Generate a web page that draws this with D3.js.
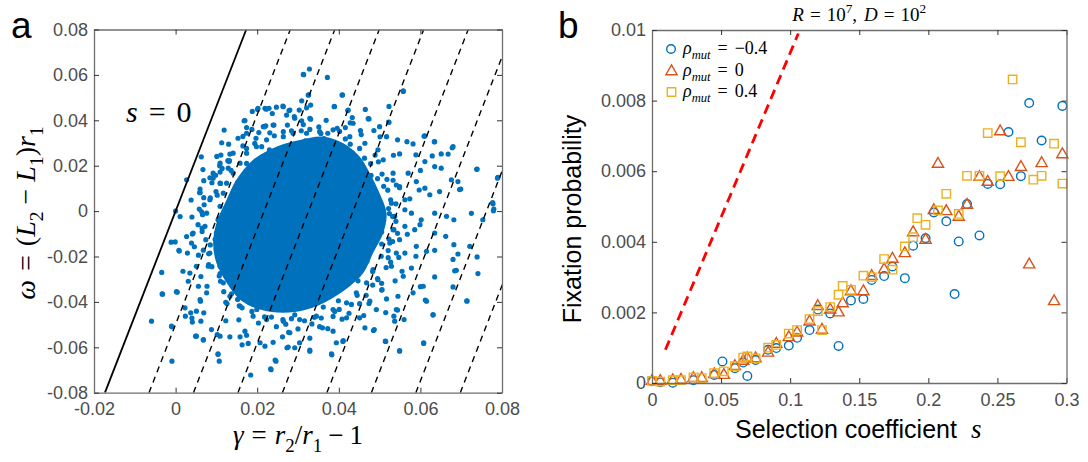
<!DOCTYPE html>
<html>
<head>
<meta charset="utf-8">
<script src="https://cdn.jsdelivr.net/npm/d3@7/dist/d3.min.js"></script>
<style>
  body { margin: 0; background: #fff; }
  text { font-family: "Liberation Sans", Arial, sans-serif; }
  .axis text { fill: #4d4d4d; font-size: 18px; font-family: "Liberation Sans", Arial, sans-serif; }
  .axis path.domain { stroke: #6e6e6e; stroke-width: 1.3; }
  .axis line { stroke: #333; stroke-width: 1; }
  .tex { font-family: "Liberation Serif", "DejaVu Serif", serif; fill: #000; }
</style>
</head>
<body>
<svg id="fig"></svg>
<script>
// ---------- panel a : gamma / omega cloud ----------
// solid middle of the cloud, outline
let cloudCore = [
  [0.0190, 0.0226], [0.0247, 0.0284], [0.0305, 0.0313], [0.0362, 0.0328], [0.0411, 0.0299],
  [0.0451, 0.0240], [0.0476, 0.0167], [0.0500, 0.0079], [0.0517, -0.0009], [0.0509, -0.0097],
  [0.0484, -0.0185], [0.0460, -0.0273], [0.0427, -0.0331], [0.0378, -0.0390], [0.0321, -0.0434],
  [0.0264, -0.0448], [0.0207, -0.0434], [0.0158, -0.0390], [0.0125, -0.0316], [0.0100, -0.0229],
  [0.0092, -0.0141], [0.0100, -0.0053], [0.0125, 0.0050], [0.0149, 0.0138]
];

// dense points along the edge of the core
let cloudEdge = [
  [0.0491,-0.0042],[0.0522,0.0011],[0.0544,-0.0098],[0.0496,0.0054],[0.0533,0.0136],[0.0452,0.0118],
  [0.0478,0.0209],[0.0434,0.0209],[0.0455,0.0337],[0.0401,0.0283],[0.0364,0.0255],[0.0351,0.0371],
  [0.0318,0.0309],[0.0291,0.0416],[0.0267,0.0279],[0.0231,0.0345],[0.0211,0.0284],[0.0165,0.0329],
  [0.0174,0.0210],[0.0132,0.0223],[0.0152,0.0127],[0.0084,0.0147],[0.0102,0.0070],[0.0038,0.0049],
  [0.0110,-0.0030],[0.0065,-0.0075],[0.0097,-0.0124],[0.0056,-0.0194],[0.0136,-0.0198],[0.0109,-0.0275],
  [0.0150,-0.0287],[0.0123,-0.0402],[0.0176,-0.0378],[0.0213,-0.0356],[0.0218,-0.0466],[0.0254,-0.0421],
  [0.0277,-0.0534],[0.0307,-0.0404],[0.0340,-0.0468],[0.0362,-0.0423],[0.0408,-0.0476],[0.0396,-0.0337],
  [0.0445,-0.0371],[0.0447,-0.0307],[0.0505,-0.0318],[0.0469,-0.0221],[0.0521,-0.0205],[0.0505,-0.0145],
  [0.0568,-0.0102],[0.0471,-0.0028],[0.0574,0.0054],[0.0520,0.0092],[0.0473,0.0105],[0.0534,0.0246],
  [0.0427,0.0161],[0.0451,0.0276],[0.0401,0.0232],[0.0402,0.0351],[0.0364,0.0319],[0.0328,0.0254],
  [0.0308,0.0354],[0.0281,0.0265],[0.0237,0.0430],[0.0230,0.0270],[0.0194,0.0298],[0.0196,0.0197],
  [0.0113,0.0301],[0.0136,0.0179],[0.0098,0.0158],[0.0139,0.0069],[0.0085,0.0058],[0.0058,0.0009],
  [0.0124,-0.0049],[0.0027,-0.0112],[0.0085,-0.0149],[0.0135,-0.0174],[0.0062,-0.0288],[0.0110,-0.0309],
  [0.0171,-0.0277],[0.0152,-0.0389],[0.0155,-0.0479],[0.0214,-0.0407],[0.0248,-0.0364],[0.0263,-0.0478],
  [0.0292,-0.0457],[0.0329,-0.0560],[0.0340,-0.0369],[0.0386,-0.0464],[0.0399,-0.0395],[0.0461,-0.0460],
  [0.0420,-0.0292],[0.0483,-0.0326],[0.0483,-0.0266],[0.0555,-0.0265],[0.0469,-0.0153],[0.0523,-0.0123],
  [0.0599,-0.0060],[0.0597,0.0093],[0.0495,0.0143],[0.0501,0.0327],[0.0433,0.0412],[0.0331,0.0467],
  [0.0188,0.0439],[0.0119,0.0357],[0.0063,0.0239],[0.0027,0.0138],[-0.0001,-0.0136],[0.0018,-0.0265],
  [0.0061,-0.0397],[0.0174,-0.0547],[0.0239,-0.0578],[0.0394,-0.0580],[0.0515,-0.0447],[0.0589,-0.0199],
  [0.0369,0.0400],[0.0101,0.0241],[0.0123,-0.0483],[0.0425,-0.0450],[0.0549,0.0103],[0.0505,-0.0092],
  [0.0274,0.0379],[0.0011,-0.0024],[0.0300,-0.0519],
  [0.0532,-0.0024],[0.0540,0.0032],[0.0518,0.0140],[0.0489,0.0247],[0.0428,0.0295],[0.0373,0.0343],
  [0.0313,0.0381],[0.0264,0.0350],[0.0204,0.0346],[0.0165,0.0287],[0.0108,0.0200],[0.0069,0.0134],
  [0.0070,0.0028],[0.0055,-0.0060],[0.0068,-0.0172],[0.0089,-0.0245],[0.0118,-0.0355],[0.0163,-0.0426],
  [0.0203,-0.0493],[0.0270,-0.0498],[0.0334,-0.0497],[0.0390,-0.0442],[0.0451,-0.0408],[0.0505,-0.0348],
  [0.0527,-0.0225],[0.0532,-0.0134],[0.0479,0.0157],[0.0416,0.0368],[0.0174,0.0368],[0.0067,0.0183],
  [0.0041,-0.0101],[0.0077,-0.0331],[0.0187,-0.0442],[0.0373,-0.0518],[0.0538,-0.0307],[0.0562,0.0006],
  [0.0540,-0.0045],[0.0524,-0.0011],[0.0527,0.0050],[0.0510,0.0109],[0.0506,0.0163],[0.0463,0.0233],
  [0.0433,0.0257],[0.0416,0.0318],[0.0356,0.0342],[0.0329,0.0360],[0.0284,0.0354],[0.0242,0.0332],
  [0.0197,0.0321],[0.0174,0.0276],[0.0133,0.0251],[0.0109,0.0172],[0.0089,0.0125],[0.0069,0.0059],
  [0.0066,-0.0016],[0.0065,-0.0090],[0.0081,-0.0188],[0.0081,-0.0236],[0.0107,-0.0286],[0.0137,-0.0364],
  [0.0156,-0.0417],[0.0199,-0.0433],[0.0235,-0.0467],[0.0284,-0.0474],[0.0316,-0.0483],[0.0357,-0.0471],
  [0.0401,-0.0433],[0.0431,-0.0411],[0.0467,-0.0371],[0.0495,-0.0297],[0.0516,-0.0249],[0.0521,-0.0174],
  [0.0535,-0.0082],[0.0497,0.0217],[0.0396,0.0365],[0.0309,0.0398],[0.0221,0.0376],[0.0111,0.0247],
  [0.0060,0.0097],[0.0046,-0.0157],[0.0126,-0.0407],[0.0247,-0.0509],[0.0353,-0.0509],[0.0474,-0.0407],
  [0.0547,-0.0204],[0.0541,0.0115]
];

// loose points further out
let cloudPoints = [
  [0.0201,0.0448],[0.0222,0.0449],[0.0247,0.0458],[0.0263,0.0463],[0.0278,0.0443],[0.0168,0.0398],
  [0.0187,0.0360],[0.0218,0.0372],[0.0241,0.0379],[0.0130,0.0295],[0.0059,0.0081],[0.0094,0.0159],
  [0.0114,0.0188],[0.0128,0.0222],[0.0110,0.0122],[0.0313,0.0602],[0.0328,0.0626],[0.0372,0.0589],
  [0.0309,0.0486],[0.0326,0.0512],[0.0321,0.0455],[0.0331,0.0405],[0.0409,0.0512],[0.0389,0.0461],
  [0.0422,0.0443],[0.0472,0.0407],[0.0428,0.0389],[0.0523,0.0461],[0.0558,0.0527],[0.0522,0.0392],
  [0.0609,0.0330],[0.0634,0.0305],[0.0678,0.0279],[0.0668,0.0251],[0.0738,0.0184],[0.0696,0.0095],
  [0.0789,0.0145],[0.0777,0.0037],
  [-0.0011,-0.0137],[0.0009,-0.0176],[-0.0034,-0.0270],[-0.0032,-0.0366],[-0.0059,-0.0485],
  [-0.0009,-0.0510],[-0.0009,-0.0661],[0.0004,-0.0357],[0.0040,-0.0471],[0.0049,-0.0551],
  [0.0068,-0.0568],[0.0104,-0.0631],[0.0107,-0.0661],[0.0163,-0.0589],[0.0184,-0.0722],
  [0.0234,-0.0699],[0.0246,-0.0661],[0.0276,-0.0599],[0.0329,-0.0617],[0.0383,-0.0633],
  [0.0410,-0.0574],[0.0485,-0.0526],[0.0515,-0.0574],[0.0549,-0.0617],[0.0608,-0.0583],
  [0.0631,-0.0458],[0.0684,-0.0263],[0.0714,-0.0395],[0.0741,-0.0275],[0.0680,-0.0213],
  [0.0725,-0.0010],[0.0779,0.0001],[0.0600,-0.0333],[0.0612,-0.0392],[0.0544,-0.0436],
  [0.0314,0.0601],[0.0558,0.0530],[0.0408,0.0511],[0.0325,0.0511],[0.0389,0.0460],[0.0423,0.0445],
  [0.0465,0.0448],[0.0202,0.0453],[0.0219,0.0453],[0.0229,0.0453],[0.0264,0.0460],[0.0280,0.0445],
  [0.0303,0.0445],[0.0170,0.0399],[0.0215,0.0372],[0.0239,0.0379],[0.0272,0.0423],[0.0292,0.0409],
  [0.0329,0.0409],[0.0435,0.0387],[0.0474,0.0406],[0.0500,0.0372],[0.0523,0.0391],[0.0453,0.0355],
  [0.0486,0.0355],[0.0174,0.0343],[0.0141,0.0255],[0.0153,0.0321],[0.0517,0.0328],[0.0544,0.0314],
  [0.0567,0.0306],[0.0582,0.0296],[0.0611,0.0331],[0.0635,0.0306],[0.0680,0.0284],[0.0549,0.0252],
  [0.0589,0.0248],[0.0611,0.0218],[0.0629,0.0243],[0.0651,0.0252],[0.0635,0.0196],[0.0651,0.0189],
  [0.0739,0.0185],[0.0790,0.0149],[0.0676,0.0138],[0.0692,0.0130],[0.0699,0.0097],[0.0647,0.0086],
  [0.0611,0.0101],[0.0623,0.0072],[0.0590,0.0130],[0.0570,0.0167],[0.0600,0.0179],[0.0778,0.0032],
  [0.0780,0.0009],[0.0753,-0.0038],[0.0682,-0.0038],[0.0664,-0.0023],[0.0635,-0.0009],[0.0602,-0.0038],
  [0.0586,-0.0082],[0.0635,-0.0097],[0.0662,-0.0111],[0.0682,-0.0148],[0.0721,-0.0155],[0.0692,-0.0189],
  [0.0739,-0.0202],[0.0635,-0.0173],[0.0615,-0.0177],[0.0590,-0.0155],[0.0562,-0.0185],[0.0578,-0.0251],
  [0.0558,-0.0287],[0.0635,-0.0290],[0.0688,-0.0261],[0.0680,-0.0334],[0.0714,-0.0397],
  [0.0615,-0.0397],[0.0631,-0.0456],[0.0607,-0.0331],[0.0582,-0.0360],[0.0545,-0.0375],[0.0517,-0.0387],
  [0.0541,-0.0434],[0.0560,-0.0478],[0.0537,-0.0485],[0.0487,-0.0522],[0.0514,-0.0573],[0.0549,-0.0614],
  [0.0608,-0.0580],[0.0464,-0.0514],[0.0451,-0.0470],[0.0419,-0.0470],[0.0411,-0.0570],[0.0382,-0.0629],
  [0.0386,-0.0529],[0.0360,-0.0514],[0.0329,-0.0612],[0.0304,-0.0580],[0.0292,-0.0602],[0.0273,-0.0602],
  [0.0280,-0.0536],[0.0262,-0.0554],[0.0244,-0.0656],[0.0233,-0.0695],[0.0219,-0.0595],[0.0207,-0.0580],
  [0.0178,-0.0583],[0.0158,-0.0554],[0.0170,-0.0529],[0.0133,-0.0554],[0.0109,-0.0551],[0.0104,-0.0629],
  [0.0102,-0.0544],[0.0088,-0.0522],[0.0068,-0.0566],[0.0051,-0.0551],[0.0062,-0.0485],[0.0041,-0.0489],
  [0.0024,-0.0463],[0.0023,-0.0426],[0.0037,-0.0448],[0.0051,-0.0441],[0.0069,-0.0448],[-0.0010,-0.0507],
  [-0.0033,-0.0365],[0.0002,-0.0355],[0.0008,-0.0173],[0.0000,0.0000],[0.0060,0.0082],[0.0040,-0.0026],
  [0.0064,-0.0003],[0.0043,-0.0097],[0.0039,-0.0141],[0.0029,-0.0185],[0.0051,-0.0243],[0.0035,-0.0273],
  [0.0031,-0.0309],[0.0056,-0.0331],[0.0076,-0.0360],[0.0060,-0.0390],[0.0092,0.0167],[0.0092,0.0145],
  [0.0109,0.0123],[0.0099,0.0086],[0.0084,0.0050],[0.0076,-0.0009],[0.0072,-0.0067],[0.0074,-0.0126],
  [0.0084,-0.0185],[0.0080,-0.0243],[0.0109,0.0211],[0.0129,0.0189],[0.0131,0.0218],[0.0535,-0.0463],
  [0.0492,-0.0434],[0.0476,-0.0397],[0.0506,-0.0346],[0.0496,-0.0302],[0.0529,-0.0243],[0.0541,-0.0185],
  [0.0549,-0.0126],[0.0562,-0.0067],[0.0578,-0.0009],[0.0562,0.0050],[0.0549,0.0108],[0.0533,0.0167],
  [0.0509,0.0226],[0.0496,0.0270],[0.0464,0.0299],[0.0427,0.0328],[0.0386,0.0358],[0.0353,0.0350],
  [0.0321,0.0343],[0.0288,0.0343],[0.0264,0.0328],[0.0223,0.0314],[0.0198,0.0284],[0.0174,0.0255],
  [0.0158,0.0211],[0.0141,0.0167],[0.0125,0.0123],[0.0117,0.0079],[0.0109,0.0021],[0.0104,-0.0038],
  [0.0100,-0.0097],[0.0100,-0.0170],[0.0109,-0.0243],[0.0117,-0.0316],[0.0133,-0.0375],[0.0158,-0.0419],
  [0.0190,-0.0463],[0.0223,-0.0478],[0.0264,-0.0485],[0.0304,-0.0478],[0.0345,-0.0463],[0.0386,-0.0434],
  [0.0419,-0.0404],[0.0443,-0.0360],[0.0468,-0.0316],[0.0484,-0.0258],[0.0504,-0.0199],[0.0525,-0.0141],
  [0.0533,-0.0082],[0.0537,-0.0023],[0.0529,0.0035]
];

let boundarySlope = 4.62;          // omega / gamma along the s lines
let solidOffset = 0;               // s = 0
let dashedOffsets = [0.0108, 0.0217, 0.0326, 0.0435, 0.0544, 0.0653, 0.0762, 0.0871];

let gammaTicks = [-0.02, 0, 0.02, 0.04, 0.06, 0.08];
let omegaTicks = [-0.08, -0.06, -0.04, -0.02, 0, 0.02, 0.04, 0.06, 0.08];

// ---------- panel b : fixation probability ----------
let rhoNeg = [
  [0.000,0.00005],[0.006,0.00002],[0.015,0.00001],[0.030,0.00008],[0.045,0.00023],[0.051,0.00061],
  [0.060,0.00042],[0.066,0.00058],[0.069,0.00020],[0.075,0.00065],[0.084,0.00094],[0.090,0.00099],
  [0.099,0.00106],[0.105,0.00128],[0.114,0.00150],[0.120,0.00208],[0.129,0.00197],[0.135,0.00105],
  [0.144,0.00234],[0.153,0.00238],[0.159,0.00292],[0.168,0.00303],[0.174,0.00330],[0.183,0.00297],
  [0.189,0.00389],[0.198,0.00410],[0.204,0.00483],[0.213,0.00458],[0.219,0.00252],[0.222,0.00401],
  [0.228,0.00507],[0.237,0.00418],[0.243,0.00564],[0.252,0.00563],[0.258,0.00711],[0.267,0.00586],
  [0.273,0.00793],[0.282,0.00687],[0.297,0.00785]
];
let rhoZero = [
  [0.000,0.00008],[0.006,0.00008],[0.015,0.00010],[0.021,0.00011],[0.030,0.00016],[0.036,0.00016],
  [0.045,0.00027],[0.052,0.00025],[0.060,0.00050],[0.066,0.00065],[0.069,0.00072],[0.075,0.00072],
  [0.084,0.00088],[0.090,0.00113],[0.099,0.00132],[0.105,0.00145],[0.114,0.00176],[0.120,0.00220],
  [0.123,0.00153],[0.129,0.00210],[0.135,0.00202],[0.138,0.00228],[0.144,0.00262],[0.153,0.00262],
  [0.159,0.00305],[0.168,0.00324],[0.174,0.00354],[0.183,0.00370],[0.189,0.00429],[0.198,0.00408],
  [0.204,0.00492],[0.207,0.00623],[0.213,0.00489],[0.222,0.00473],[0.228,0.00507],[0.237,0.00586],
  [0.243,0.00572],[0.252,0.00715],[0.258,0.00586],[0.267,0.00614],[0.273,0.00338],[0.282,0.00625],
  [0.291,0.00234],[0.297,0.00650]
];
let rhoPos = [
  [0.000,0.00006],[0.006,0.00004],[0.015,0.00008],[0.021,0.00008],[0.030,0.00016],[0.036,0.00014],
  [0.045,0.00028],[0.052,0.00033],[0.060,0.00048],[0.066,0.00072],[0.069,0.00075],[0.075,0.00070],
  [0.084,0.00100],[0.090,0.00108],[0.099,0.00140],[0.105,0.00150],[0.114,0.00181],[0.120,0.00204],
  [0.123,0.00150],[0.129,0.00215],[0.135,0.00250],[0.138,0.00275],[0.144,0.00264],[0.153,0.00304],
  [0.159,0.00300],[0.168,0.00351],[0.174,0.00321],[0.183,0.00387],[0.189,0.00413],[0.192,0.00467],
  [0.198,0.00448],[0.207,0.00489],[0.213,0.00536],[0.222,0.00479],[0.228,0.00587],[0.237,0.00587],
  [0.243,0.00708],[0.252,0.00586],[0.261,0.00860],[0.267,0.00682],[0.276,0.00576],[0.282,0.00587],
  [0.291,0.00678],[0.297,0.00565]
];
let theoryLine = [[0.0097, 0.00094], [0.1059, 0.0099]];

let sTicks = [0, 0.05, 0.1, 0.15, 0.2, 0.25, 0.3];
let pTicks = [0, 0.002, 0.004, 0.006, 0.008, 0.01];

// ---------- layout ----------
let config = {
  svg: { width: 1088, height: 462 },
  a: { left: 94, right: 502, top: 29.5, bottom: 392.7 },
  b: { left: 652, right: 1066.5, top: 30, bottom: 383 }
};

let colors = { blue: "#0072BD", orange: "#D95319", yellow: "#EDB120" };

let svg = d3.select("svg#fig")
  .attr("width", config.svg.width)
  .attr("height", config.svg.height);

let scale = {};
scale.gamma = d3.scaleLinear().domain([-0.02, 0.08]).range([config.a.left, config.a.right]);
scale.omega = d3.scaleLinear().domain([-0.08, 0.08]).range([config.a.bottom, config.a.top]);
scale.s = d3.scaleLinear().domain([0, 0.3]).range([config.b.left, config.b.right]);
scale.p = d3.scaleLinear().domain([0, 0.01]).range([config.b.bottom, config.b.top]);

let fmt = d => String(+d.toFixed(3));

drawPanelA();
drawPanelB();

function drawPanelA() {
  let c = config.a;

  let defs = svg.append("defs");
  defs.append("clipPath").attr("id", "clipA")
    .append("rect")
    .attr("x", c.left).attr("y", c.top)
    .attr("width", c.right - c.left).attr("height", c.bottom - c.top);

  let plot = svg.append("g").attr("id", "plotA");

  let core = d3.line()
    .x(d => scale.gamma(d[0]))
    .y(d => scale.omega(d[1]))
    .curve(d3.curveCatmullRomClosed);

  plot.append("path")
    .attr("d", core(cloudCore))
    .attr("fill", colors.blue);

  plot.selectAll("circle.dot")
    .data(cloudEdge.concat(cloudPoints))
    .enter()
    .append("circle")
    .attr("class", "dot")
    .attr("cx", d => scale.gamma(d[0]))
    .attr("cy", d => scale.omega(d[1]))
    .attr("r", 2.6)
    .attr("fill", colors.blue);

  // lines of constant s
  let ends = off => [[off - 0.08 / boundarySlope, -0.08], [off + 0.08 / boundarySlope, 0.08]];
  let line = d3.line().x(d => scale.gamma(d[0])).y(d => scale.omega(d[1]));

  let lines = plot.append("g").attr("clip-path", "url(#clipA)");

  lines.selectAll("path.dash")
    .data(dashedOffsets)
    .enter()
    .append("path")
    .attr("class", "dash")
    .attr("d", d => line(ends(d)))
    .attr("fill", "none")
    .attr("stroke", "#000")
    .attr("stroke-width", 1.4)
    .attr("stroke-dasharray", "6,5");

  lines.append("path")
    .attr("d", line(ends(solidOffset)))
    .attr("fill", "none")
    .attr("stroke", "#000")
    .attr("stroke-width", 1.8);

  drawBox(scale.gamma, scale.omega, gammaTicks, omegaTicks, c);

  // labels
  tex(svg, [{ t: "s", i: 1 }, { t: "=", dx: 11 }, { t: "0", dx: 11 }], 30)
    .attr("x", 126).attr("y", 122);

  tex(svg, [
      { t: "γ", i: 1 }, { t: "=", dx: 8 }, { t: "r", i: 1, dx: 8 }, { t: "2", sub: 1 },
      { t: "/" }, { t: "r", i: 1 }, { t: "1", sub: 1 }, { t: "−", dx: 6 }, { t: "1", dx: 6 }
    ], 27)
    .attr("x", (c.left + c.right) / 2).attr("y", 444)
    .attr("text-anchor", "middle");

  tex(svg, [
      { t: "ω", i: 1 }, { t: "=", dx: 9 }, { t: "(", dx: 9 }, { t: "L", i: 1 }, { t: "2", sub: 1 },
      { t: "−", dx: 7 }, { t: "L", i: 1, dx: 7 }, { t: "1", sub: 1 }, { t: ")" },
      { t: "r", i: 1 }, { t: "1", sub: 1 }
    ], 28)
    .attr("text-anchor", "middle")
    .attr("transform", translate(35, 213) + " rotate(-90)");

  svg.append("text")
    .text("a")
    .attr("x", 11).attr("y", 38)
    .attr("font-size", "37px");
}

function drawPanelB() {
  let c = config.b;
  let plot = svg.append("g").attr("id", "plotB");

  let line = d3.line().x(d => scale.s(d[0])).y(d => scale.p(d[1]));

  plot.append("path")
    .attr("d", line(theoryLine))
    .attr("fill", "none")
    .attr("stroke", "#ff0000")
    .attr("stroke-width", 2.8)
    .attr("stroke-dasharray", "10,6");

  drawBox(scale.s, scale.p, sTicks, pTicks, c);

  let tri = "M0,-5.6L5.6,4.2L-5.6,4.2Z";
  let sq = "M-4.2,-4.2H4.2V4.2H-4.2Z";

  plot.selectAll("circle.neg")
    .data(rhoNeg)
    .enter()
    .append("circle")
    .attr("class", "neg")
    .attr("cx", d => scale.s(d[0]))
    .attr("cy", d => scale.p(d[1]))
    .attr("r", 4.3)
    .attr("fill", "none")
    .attr("stroke", colors.blue)
    .attr("stroke-width", 1.4);

  plot.selectAll("path.zero")
    .data(rhoZero)
    .enter()
    .append("path")
    .attr("class", "zero")
    .attr("d", tri)
    .attr("transform", d => translate(scale.s(d[0]), scale.p(d[1])))
    .attr("fill", "none")
    .attr("stroke", colors.orange)
    .attr("stroke-width", 1.4);

  plot.selectAll("path.pos")
    .data(rhoPos)
    .enter()
    .append("path")
    .attr("class", "pos")
    .attr("d", sq)
    .attr("transform", d => translate(scale.s(d[0]), scale.p(d[1])))
    .attr("fill", "none")
    .attr("stroke", colors.yellow)
    .attr("stroke-width", 1.4);

  // legend
  let legendRows = [
    { shape: "circle", color: colors.blue, value: "−0.4", y: 49 },
    { shape: tri, color: colors.orange, value: "0", y: 70.5 },
    { shape: sq, color: colors.yellow, value: "0.4", y: 92 }
  ];
  let legend = svg.append("g").attr("id", "legend");
  legendRows.forEach(function(row) {
    if (row.shape === "circle") {
      legend.append("circle")
        .attr("cx", 671).attr("cy", row.y).attr("r", 4.3)
        .attr("fill", "none").attr("stroke", row.color).attr("stroke-width", 1.4);
    } else {
      legend.append("path")
        .attr("d", row.shape)
        .attr("transform", translate(671.5, row.y))
        .attr("fill", "none").attr("stroke", row.color).attr("stroke-width", 1.4);
    }
    tex(legend, [
        { t: "ρ", i: 1 }, { t: "mut", i: 1, sub: 1 }, { t: "=", dx: 7 }, { t: row.value, dx: 7 }
      ], 18)
      .attr("x", 683).attr("y", row.y + 5);
  });

  // titles
  tex(svg, [
      { t: "R", i: 1 }, { t: "=", dx: 6 }, { t: "10", dx: 6 }, { t: "7", sup: 1 },
      { t: "," }, { t: "D", i: 1, dx: 7 }, { t: "=", dx: 6 }, { t: "10", dx: 6 }, { t: "2", sup: 1 }
    ], 19)
    .attr("x", (c.left + c.right) / 2).attr("y", 21)
    .attr("text-anchor", "middle");

  let xl = svg.append("text")
    .attr("x", 735).attr("y", 438)
    .attr("font-size", "25px")
    .attr("fill", "#000");
  xl.append("tspan").text("Selection coefficient");
  xl.append("tspan").text("s")
    .attr("dx", 14)
    .attr("font-style", "italic")
    .attr("font-family", "'Liberation Serif', serif")
    .attr("font-size", "27px");

  svg.append("text")
    .text("Fixation probability")
    .attr("font-size", "25px")
    .attr("text-anchor", "middle")
    .attr("transform", translate(581, 219) + " rotate(-90)");

  svg.append("text")
    .text("b")
    .attr("x", 558).attr("y", 38)
    .attr("font-size", "37px");
}

// box with inward ticks on all four sides (matlab style)
function drawBox(x, y, xTicks, yTicks, c) {
  let g = svg.append("g");

  g.append("g").attr("class", "axis")
    .attr("transform", translate(0, c.bottom))
    .call(d3.axisBottom(x).tickValues(xTicks).tickFormat(fmt)
      .tickSizeInner(-5).tickSizeOuter(0).tickPadding(10));

  g.append("g").attr("class", "axis")
    .attr("transform", translate(0, c.top))
    .call(d3.axisTop(x).tickValues(xTicks).tickFormat("")
      .tickSizeInner(-5).tickSizeOuter(0));

  g.append("g").attr("class", "axis")
    .attr("transform", translate(c.left, 0))
    .call(d3.axisLeft(y).tickValues(yTicks).tickFormat(fmt)
      .tickSizeInner(-5).tickSizeOuter(0).tickPadding(6));

  g.append("g").attr("class", "axis")
    .attr("transform", translate(c.right, 0))
    .call(d3.axisRight(y).tickValues(yTicks).tickFormat("")
      .tickSizeInner(-5).tickSizeOuter(0));

  g.selectAll(".axis text").attr("fill", "#4d4d4d");
}

// small latex-like label built from tspans
function tex(parent, parts, size) {
  let t = parent.append("text")
    .attr("class", "tex")
    .attr("font-size", size + "px");
  let shift = 0;
  parts.forEach(function(p) {
    let span = t.append("tspan").text(p.t);
    let target = p.sub ? size * 0.28 : (p.sup ? -size * 0.42 : 0);
    if (target !== shift) span.attr("dy", target - shift);
    shift = target;
    if (p.sub || p.sup) span.attr("font-size", (size * 0.7) + "px");
    if (p.i) span.attr("font-style", "italic");
    if (p.dx) span.attr("dx", p.dx);
  });
  return t;
}

function translate(x, y) {
  return 'translate(' + x + ',' + y + ')';
}
</script>
</body>
</html>
